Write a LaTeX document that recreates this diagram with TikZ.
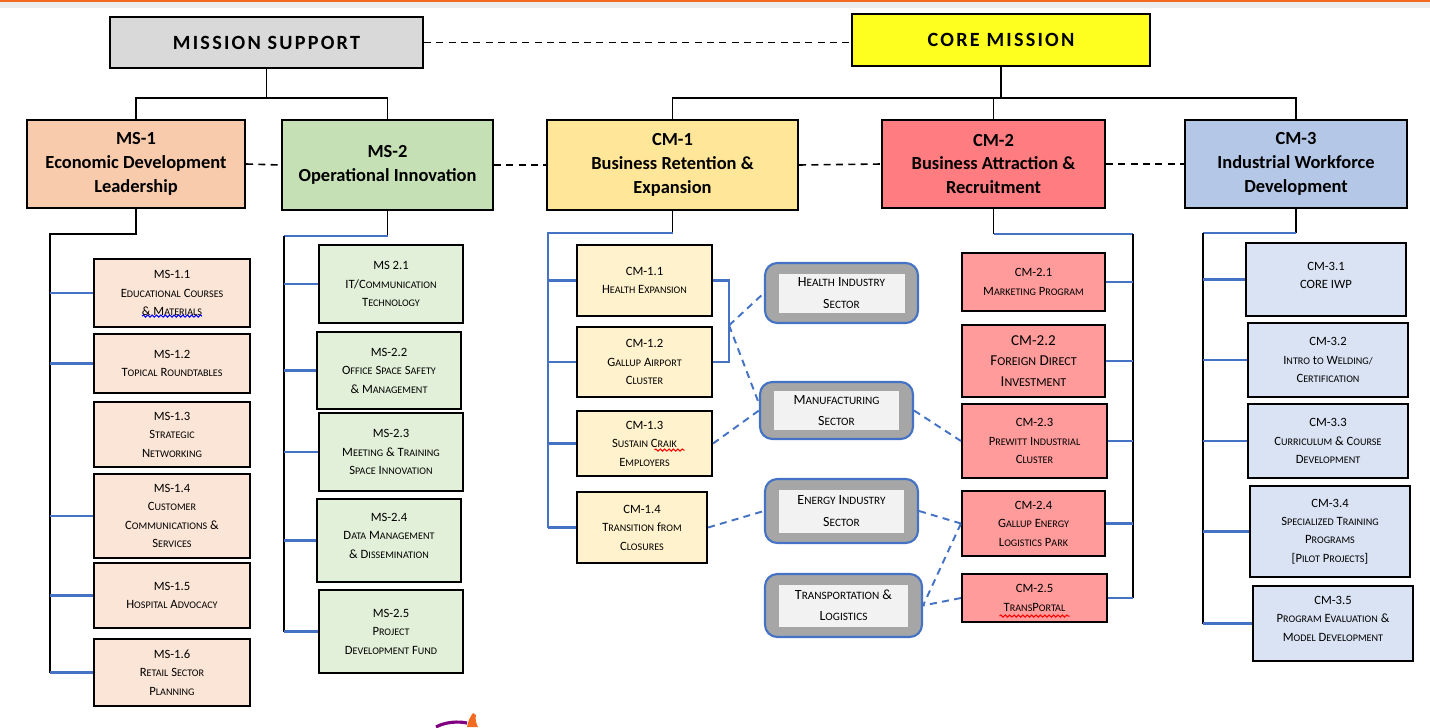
\documentclass[tikz,border=0pt]{standalone}
\usepackage{fontspec}
\setmainfont{Carlito}
\newfontfamily\spaced[LetterSpace=11]{Carlito}
\usetikzlibrary{calc, decorations.pathmorphing}

% small capitals drawn from capitals (the font has none)
\makeatletter
\newcommand\scsmall{\fontsize{\strip@pt\dimexpr0.8\dimexpr\f@size pt\relax\relax}{\f@baselineskip}\selectfont}
\newcommand\fsc[1]{\fsc@loop#1 \@nil}
\def\fsc@loop#1 #2\@nil{\fsc@word{#1}\if\relax\detokenize{#2}\relax\else\space\fsc@loop#2\@nil\fi}
\def\fsc@word#1{\fsc@first#1\@nil}
\def\fsc@first#1#2\@nil{#1{\scsmall\MakeUppercase{#2}}}
\makeatother

\definecolor{msgray}{HTML}{D9D9D9}
\definecolor{coreyellow}{HTML}{FFFF1F}
\definecolor{msonefill}{HTML}{F8CBAD}
\definecolor{mstwofill}{HTML}{C5E0B4}
\definecolor{cmonefill}{HTML}{FFE699}
\definecolor{cmtwofill}{HTML}{FF7C80}
\definecolor{cmthreefill}{HTML}{B4C7E7}
\definecolor{msonesub}{HTML}{FBE5D6}
\definecolor{mstwosub}{HTML}{E2F0D9}
\definecolor{cmonesub}{HTML}{FFF2CC}
\definecolor{cmtwosub}{HTML}{FF9B9B}
\definecolor{cmthreesub}{HTML}{DAE3F3}
\definecolor{linkblue}{HTML}{4472C4}
\definecolor{secgray}{HTML}{A6A6A6}
\definecolor{secinner}{HTML}{F2F2F2}
\definecolor{topband}{HTML}{ECECEC}
\definecolor{topline}{HTML}{F26B21}

\tikzset{
    sz/.style 2 args={minimum width=#1*0.02cm, minimum height=#2*0.02cm},
    topbox/.style={draw, line width=1.2pt, inner sep=0pt,
            font=\spaced\fontsize{11.5}{14}\selectfont\bfseries},
    headbox/.style={draw, line width=1.2pt, align=center, inner sep=0pt,
            font=\fontsize{10.5}{13.5}\selectfont\bfseries},
    subbox/.style={draw, line width=1.2pt, align=center, inner sep=0pt,
            font=\fontsize{7.2}{10.5}\selectfont},
    secout/.style={draw=linkblue, line width=1.2pt, fill=secgray, rounded corners=7pt},
    secin/.style={fill=secinner, align=center, inner sep=0pt,
            font=\fontsize{8}{12}\selectfont},
    link/.style={draw=linkblue, line width=1.2pt},
    dlink/.style={draw=linkblue, line width=1.1pt, dash pattern=on 4pt off 3pt},
    tree/.style={line width=1pt},
    peer/.style={line width=0.9pt, dash pattern=on 4pt off 3pt},
    squig/.style={line width=0.6pt, decorate,
            decoration={snake, amplitude=0.6pt, segment length=2.5pt}}
}

\begin{document}
\begin{tikzpicture}[x=0.02cm, y=-0.02cm]
    \useasboundingbox (0,0) rectangle (1430,727);
    \fill[topband] (0,0) rectangle (1430,8);
    \fill[topline] (0,0) rectangle (1430,2);

    % top level
    \node[topbox, fill=msgray, sz={313}{51}] (ms) at (266.5,42.5) {MISSION SUPPORT};
    \node[topbox, fill=coreyellow, sz={298}{52}] (cm) at (1001,40) {CORE MISSION};
    \draw[peer] (ms.east) -- (ms.east -| cm.west);

    % second level
    \node[headbox, fill=msonefill, sz={218}{88}] (ms1) at (136,164)
        {MS-1\\Economic Development\\Leadership};
    \node[headbox, fill=mstwofill, sz={211}{90}] (ms2) at (387.5,165)
        {MS-2\\Operational Innovation};
    \node[headbox, fill=cmonefill, sz={251}{90}] (cm1) at (672.5,165)
        {CM-1\\Business Retention \&\\Expansion};
    \node[headbox, fill=cmtwofill, sz={223}{88}] (cm2) at (993.5,164)
        {CM-2\\Business Attraction \&\\Recruitment};
    \node[headbox, fill=cmthreefill, sz={222}{88}] (cm3) at (1296,164)
        {CM-3\\Industrial Workforce\\Development};

    \draw[peer] (ms1.east) -- (ms2.west);
    \draw[peer] (ms2.east) -- (cm1.west);
    \draw[peer] (cm1.east) -- (cm2.west);
    \draw[peer] (cm2.east) -- (cm3.west);

    \coordinate (msbar) at (0,98);
    \draw[tree] (ms.south) -- (ms.south |- msbar);
    \draw[tree] (ms1.north) |- (ms2.north |- msbar) -- (ms2.north);
    \draw[tree] (cm.south) -- (cm.south |- msbar);
    \draw[tree] (cm1.north) |- (cm3.north |- msbar) -- (cm3.north);
    \draw[tree] (cm2.north) -- (cm2.north |- msbar);

    % MS-1 items
    \node[subbox, fill=msonesub, sz={156}{68}] (ms11) at (172,293)
        {MS-1.1\\\fsc{Educational Courses}\\\fsc{\& Materials}};
    \node[subbox, fill=msonesub, sz={156}{59}] (ms12) at (172,363.5)
        {MS-1.2\\\fsc{Topical Roundtables}};
    \node[subbox, fill=msonesub, sz={156}{65}] (ms13) at (172,434.5)
        {MS-1.3\\\fsc{Strategic}\\\fsc{Networking}};
    \node[subbox, fill=msonesub, sz={156}{84}] (ms14) at (172,516)
        {MS-1.4\\\fsc{Customer}\\\fsc{Communications \&}\\\fsc{Services}};
    \node[subbox, fill=msonesub, sz={156}{65}] (ms15) at (172,595.5)
        {MS-1.5\\\fsc{Hospital Advocacy}};
    \node[subbox, fill=msonesub, sz={156}{67}] (ms16) at (172,672.5)
        {MS-1.6\\\fsc{Retail Sector}\\\fsc{Planning}};

    \coordinate (ms1t) at (50,234);
    \draw[tree] (ms1.south) |- (ms1t) -- (ms1t |- ms16.west);
    \foreach \n in {ms11,ms12,ms14,ms15,ms16}
        \draw[link] (ms1t |- \n.west) -- (\n.west);

    % MS-2 items
    \node[subbox, fill=mstwosub, sz={144}{78}] (ms21) at (391,284)
        {MS 2.1\\IT/\fsc{Communication}\\\fsc{Technology}};
    \node[subbox, fill=mstwosub, sz={144}{77}] (ms22) at (389,370.5)
        {MS-2.2\\\fsc{Office Space Safety}\\\fsc{\& Management}};
    \node[subbox, fill=mstwosub, sz={144}{78}] (ms23) at (391,452)
        {MS-2.3\\\fsc{Meeting \& Training}\\\fsc{Space Innovation}};
    \node[subbox, fill=mstwosub, sz={144}{83}] (ms24) at (389,540.5)
        {MS-2.4\\\fsc{Data Management}\\\fsc{\& Dissemination}\\[-5pt]};
    \node[subbox, fill=mstwosub, sz={144}{83}] (ms25) at (391,631.5)
        {MS-2.5\\\fsc{Project}\\\fsc{Development Fund}};

    \coordinate (ms2t) at (284,236);
    \draw[tree] (ms2.south) -- (ms2.south |- ms2t);
    \draw[link] (ms2.south |- ms2t) -- (ms2t);
    \draw[tree] (ms2t) -- (ms2t |- ms25.west);
    \foreach \n in {ms21,ms22,ms23,ms24,ms25}
        \draw[link] (ms2t |- \n.west) -- (\n.west);

    % CM-1 items
    \node[subbox, fill=cmonesub, sz={135}{71}] (cm11) at (644.5,280.5)
        {CM-1.1\\\fsc{Health Expansion}};
    \node[subbox, fill=cmonesub, sz={135}{70}] (cm12) at (644.5,362)
        {CM-1.2\\\fsc{Gallup Airport}\\\fsc{Cluster}};
    \node[subbox, fill=cmonesub, sz={135}{65}] (cm13) at (644.5,443.5)
        {CM-1.3\\\fsc{Sustain Craik}\\\fsc{Employers}};
    \node[subbox, fill=cmonesub, sz={130}{71}] (cm14) at (642,527.5)
        {CM-1.4\\\fsc{Transition from}\\\fsc{Closures}};

    \coordinate (cm1t) at (548,233);
    \draw[tree] (cm1.south) -- (cm1.south |- cm1t);
    \draw[link] (cm1.south |- cm1t) -- (cm1t) -- (cm1t |- cm14.west);
    \foreach \n in {cm11,cm12,cm13,cm14}
        \draw[link] (cm1t |- \n.west) -- (\n.west);

    % CM-2 items
    \node[subbox, fill=cmtwosub, sz={143}{58}] (cm21) at (1033.5,282)
        {CM-2.1\\\fsc{Marketing Program}};
    \node[subbox, fill=cmtwosub, sz={143}{72}, font=\fontsize{8.6}{11.5}\selectfont] (cm22) at (1033.5,361)
        {CM-2.2\\\fsc{Foreign Direct}\\\fsc{Investment}};
    \node[subbox, fill=cmtwosub, sz={145}{74}] (cm23) at (1034.5,441)
        {CM-2.3\\\fsc{Prewitt Industrial}\\\fsc{Cluster}};
    \node[subbox, fill=cmtwosub, sz={143}{65}] (cm24) at (1033.5,523.5)
        {CM-2.4\\\fsc{Gallup Energy}\\\fsc{Logistics Park}};
    \node[subbox, fill=cmtwosub, sz={145}{48}] (cm25) at (1034.5,598)
        {CM-2.5\\T{\scsmall RANS}P{\scsmall ORTAL}};

    \coordinate (cm2t) at (1133,234);
    \draw[tree] (cm2.south) -- (cm2.south |- cm2t);
    \draw[link] (cm2.south |- cm2t) -- (cm2t);
    \draw[tree] (cm2t) -- (cm2t |- cm25.east);
    \foreach \n in {cm21,cm22,cm23,cm24,cm25}
        \draw[link] (cm2t |- \n.east) -- (\n.east);

    % CM-3 items
    \node[subbox, fill=cmthreesub, sz={160}{73}] (cm31) at (1326,279.5)
        {CM-3.1\\CORE IWP\\[-6pt]};
    \node[subbox, fill=cmthreesub, sz={160}{74}] (cm32) at (1328,360)
        {CM-3.2\\\fsc{Intro to Welding/}\\\fsc{Certification}};
    \node[subbox, fill=cmthreesub, sz={160}{74}] (cm33) at (1328,441)
        {CM-3.3\\\fsc{Curriculum \& Course}\\\fsc{Development}};
    \node[subbox, fill=cmthreesub, sz={160}{91}] (cm34) at (1330,531.5)
        {CM-3.4\\\fsc{Specialized Training}\\\fsc{Programs}\\{[}\fsc{Pilot Projects}{]}};
    \node[subbox, fill=cmthreesub, sz={160}{75}] (cm35) at (1333,623.5)
        {CM-3.5\\\fsc{Program Evaluation \&}\\\fsc{Model Development}\\[-5pt]};

    \coordinate (cm3t) at (1203,233);
    \draw[tree] (cm3.south) -- (cm3.south |- cm3t);
    \draw[link] (cm3.south |- cm3t) -- (cm3t);
    \draw[tree] (cm3t) -- (cm3t |- cm35.west);
    \foreach \n in {cm31,cm32,cm33,cm34,cm35}
        \draw[link] (cm3t |- \n.west) -- (\n.west);

    % spelling marks
    \draw[squig, blue] ($(ms11.south)+(-30,-12)$) -- ++(60,0);
    \draw[squig, red] ($(cm13.south)+(10,-27)$) -- ++(30,0);
    \draw[squig, red] ($(cm25.south)+(-35,-7)$) -- ++(70,0);

    % sectors
    \node[secout, sz={153}{60}] (hs) at (841.5,293) {};
    \node[secin, sz={126}{39}] (hstxt) at (hs) {\fsc{Health Industry}\\\fsc{Sector}};
    \node[secout, sz={153}{57}] (mf) at (836.5,410.5) {};
    \node[secin, sz={125}{39}] (mftxt) at (mf) {\fsc{Manufacturing}\\\fsc{Sector}};
    \node[secout, sz={153}{64}] (en) at (841.5,511) {};
    \node[secin, sz={125}{43}] (entxt) at (en) {\fsc{Energy Industry}\\\fsc{Sector}};
    \node[secout, sz={157}{63}] (tr) at (843.5,605.5) {};
    \node[secin, sz={129}{42}] (trtxt) at (tr) {\fsc{Transportation \&}\\\fsc{Logistics}};

    \draw[link] (cm11.east) -- ++(16,0) coordinate (brt) |- (cm12.east);
    \coordinate (brm) at ($(brt)!0.55!(brt |- cm12.east)$);
    \draw[dlink] (brm) -- (hs.west);
    \draw[dlink] (brm) -- ([yshift=0.14cm]mf.west);
    \draw[dlink] (cm13.east) -- (mf.west);
    \draw[dlink] (cm14.east) -- (en.west);
    \draw[dlink] (mf.east) -- (cm23.west);
    \draw[dlink] (en.east) -- (cm24.west);
    \draw[dlink] (cm24.west) -- (tr.east);
    \draw[dlink] (cm25.west) -- (tr.east);

    % logo fragment
    \draw[violet, line width=1.8pt] (436,727) .. controls (445,722) and (458,721) .. (467,723);
    \fill[topline] (467,727) .. controls (468,721) and (470,717) .. (473,713)
        -- (476,715) .. controls (475,719) and (476,723) .. (478,727) -- cycle;
\end{tikzpicture}
\end{document}
